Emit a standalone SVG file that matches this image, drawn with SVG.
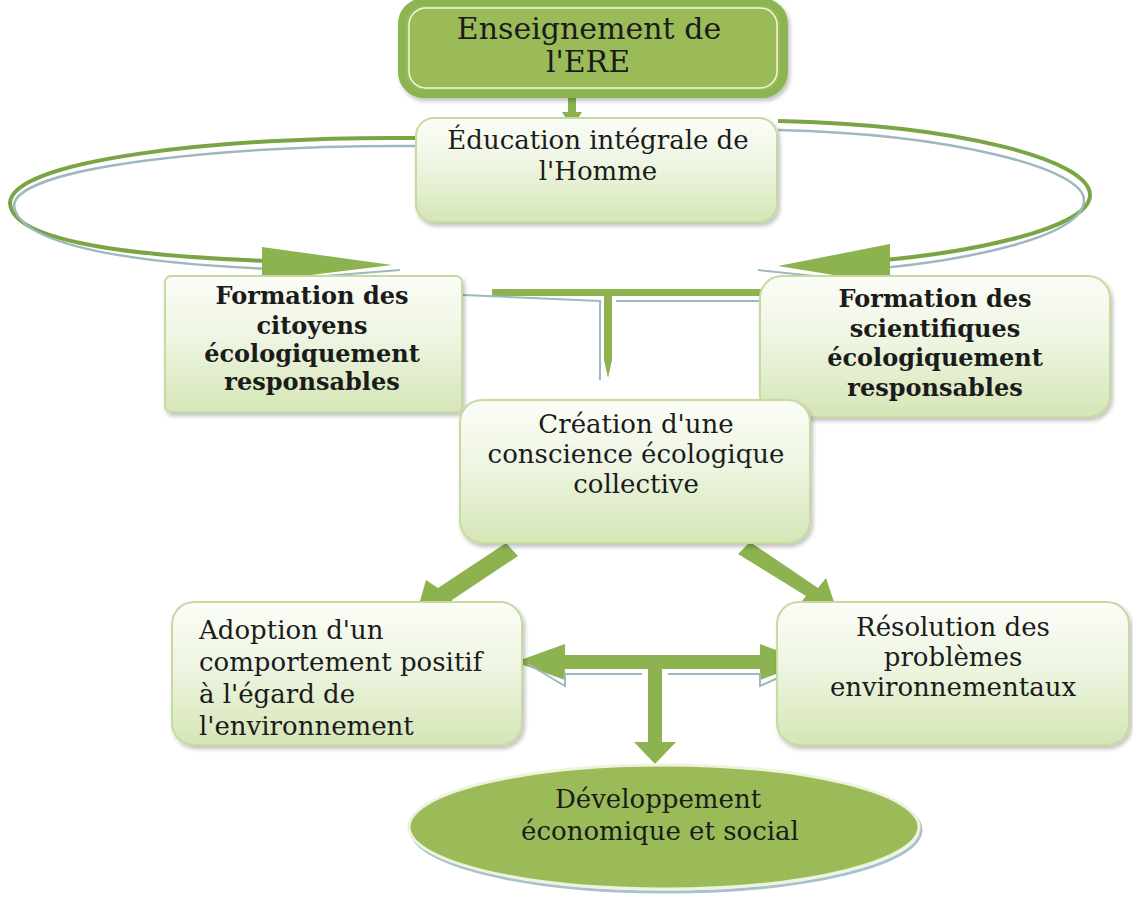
<svg xmlns="http://www.w3.org/2000/svg" width="1133" height="904" viewBox="0 0 1133 904">
<defs>
<linearGradient id="lg" x1="0" y1="0" x2="0" y2="1">
<stop offset="0" stop-color="#fbfdf7"/>
<stop offset="0.45" stop-color="#eef5e2"/>
<stop offset="1" stop-color="#d5e6b6"/>
</linearGradient>
<filter id="sh" x="-10%" y="-10%" width="130%" height="130%">
<feGaussianBlur in="SourceAlpha" stdDeviation="2"/>
<feOffset dx="2" dy="3"/>
<feComponentTransfer><feFuncA type="linear" slope="0.25"/></feComponentTransfer>
<feMerge><feMergeNode/><feMergeNode in="SourceGraphic"/></feMerge>
</filter>
</defs>
<style>
.t{font-family:"DejaVu Serif","Liberation Serif",serif;fill:#1b1b1b;text-anchor:middle;font-size:26px;}
.s28{font-size:30px;}
.b{font-weight:bold;font-size:24px;}
.st{text-anchor:start;}
.light{fill:url(#lg);stroke:#c6daa2;stroke-width:2;}
.ar{fill:#8cb34f;}
.cg{fill:none;stroke:#79a544;stroke-width:4;}
.cb{fill:none;stroke:#9fb8bf;stroke-width:2.5;}
</style>
<rect width="1133" height="904" fill="#ffffff"/>

<g id="connectors">
<polygon class="ar" points="568,92 576,92 576,112 582,112 572,128 562,112 568,112"/>
<path class="cg" d="M415,138 C220,136 12,160 10,203 C12,245 150,258 300,262"/>
<path class="cb" d="M415,146 C230,145 18,166 14,205 C18,250 160,266 300,270"/>
<polygon class="ar" points="262,247 392,265 262,281"/>
<line x1="262" y1="281" x2="400" y2="270" stroke="#9fb8bf" stroke-width="2"/>
<path class="cg" d="M778,121 C960,125 1090,160 1090,195 C1090,230 960,255 860,262"/>
<path class="cb" d="M778,130 C950,134 1084,168 1084,200 C1084,238 960,262 860,270"/>
<polygon class="ar" points="890,244 778,266 890,284"/>
<line x1="890" y1="284" x2="758" y2="270" stroke="#9fb8bf" stroke-width="2"/>
<polygon class="ar" points="492,289 770,289 770,296 612,296 612,360 608,378 604,360 604,296 492,296"/>
<path d="M440,294 L600,301 L600,380 M616,301 L770,301" fill="none" stroke="#9fb8bf" stroke-width="2"/>
<polygon class="ar" points="506,543 518,556 452,600 456,610 418,608 426,580 438,588"/>
<polygon class="ar" points="738,554 750,542 818,588 826,578 836,608 798,606 806,596"/>
<polygon class="ar" points="515,662 565,644 565,655 760,655 760,644 808,662 760,680 760,669 662,669 662,742 676,742 655,764 634,742 648,742 648,669 565,669 565,680"/>
<path d="M528,664 L565,686 L565,674 L642,674 M668,674 L760,674 L760,686 L800,668" fill="none" stroke="#9fb8bf" stroke-width="2"/>
</g>

<g id="n-ere">
<rect x="402" y="2" width="382" height="92" rx="22" fill="#9bbb59" stroke="#8cb453" stroke-width="8" filter="url(#sh)"/>
<rect x="409" y="8" width="368" height="80" rx="17" fill="none" stroke="#f2f6e4" stroke-width="1.5"/>
<text class="t s28" x="589" y="39">Enseignement de</text>
<text class="t s28" x="588" y="72">l'ERE</text>
</g>

<g id="n-education">
<rect class="light" x="416" y="118" width="361" height="104" rx="18" filter="url(#sh)"/>
<text class="t" x="598" y="149">Éducation intégrale de</text>
<text class="t" x="598" y="180">l'Homme</text>
</g>

<g id="n-citoyens">
<rect class="light" x="165" y="276" width="297" height="136" rx="6" filter="url(#sh)"/>
<text class="t b" x="312" y="304">Formation des</text>
<text class="t b" x="312" y="334">citoyens</text>
<text class="t b" x="312" y="362">écologiquement</text>
<text class="t b" x="312" y="390">responsables</text>
</g>

<g id="n-scientifiques">
<rect class="light" x="760" y="276" width="350" height="141" rx="22" filter="url(#sh)"/>
<text class="t b" x="935" y="307">Formation des</text>
<text class="t b" x="935" y="337">scientifiques</text>
<text class="t b" x="935" y="366">écologiquement</text>
<text class="t b" x="935" y="396">responsables</text>
</g>

<g id="n-creation">
<rect class="light" x="460" y="400" width="350" height="143" rx="22" filter="url(#sh)"/>
<text class="t" x="636" y="433">Création d'une</text>
<text class="t" x="636" y="463">conscience écologique</text>
<text class="t" x="636" y="493">collective</text>
</g>

<g id="n-adoption">
<rect class="light" x="172" y="602" width="350" height="143" rx="22" filter="url(#sh)"/>
<text class="t st" x="199" y="639">Adoption d'un</text>
<text class="t st" x="199" y="671">comportement positif</text>
<text class="t st" x="199" y="703">à l'égard de</text>
<text class="t st" x="199" y="735">l'environnement</text>
</g>

<g id="n-resolution">
<rect class="light" x="777" y="602" width="352" height="143" rx="22" filter="url(#sh)"/>
<text class="t" x="953" y="636">Résolution des</text>
<text class="t" x="953" y="666">problèmes</text>
<text class="t" x="953" y="696">environnementaux</text>
</g>

<g id="n-developpement">
<ellipse cx="664" cy="827" rx="255" ry="62" fill="none" stroke="#a7c2cc" stroke-width="3" transform="translate(2,3)"/>
<ellipse cx="664" cy="827" rx="255" ry="62" fill="#9bbb59" stroke="#eef3de" stroke-width="3"/>
<text class="t" x="658" y="808">Développement</text>
<text class="t" x="660" y="840">économique et social</text>
</g>
</svg>
